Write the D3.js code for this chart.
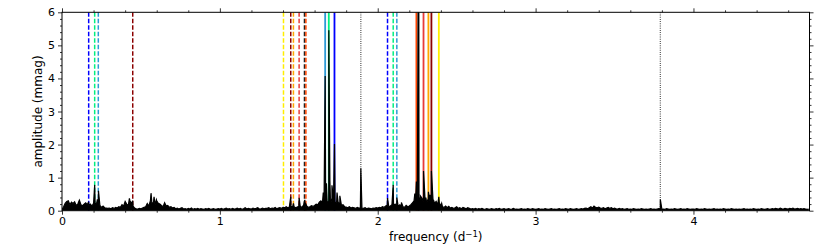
<!DOCTYPE html>
<html>
<head>
<meta charset="utf-8">
<script src="https://cdn.jsdelivr.net/npm/d3@7"></script>
<style>
  html, body { margin: 0; padding: 0; background: #fff; }
  svg { display: block; font-family: "DejaVu Sans", sans-serif; }
</style>
</head>
<body>
<svg id="chart" width="830" height="248"></svg>
<script>
// ---------------- DATA ----------------
// Noise floor of the amplitude spectrum, sampled every 0.01 d^-1 (units: 0.01 mmag)
const gridStep = 0.01;
const noise0 = [3,12,22,28,30,18,26,22,27,16, 20,32,18,15,20,24,18,15,20,14,
  22,18,24,20,16,10,14,9,8,7, 8,6,9,7,10,8,12,10,18,14,
  28,20,16,30,22,14,8,6,5,7, 6,8,10,12,22,14,30,20,26,18,
  30,22,20,16,12,24,14,16,10,12, 8,10,6,8,5,7,9,5,6,4,
  7,5,8,4,6,5,7,4,6,5, 4,6,5,7,4,5,6,4,5,6];
const noise1 = [5,7,4,6,8,5,6,4,7,5, 6,8,5,7,4,6,9,5,7,6,
  5,8,6,7,9,5,6,8,6,7, 7,9,6,8,7,10,6,8,9,7,
  10,8,12,9,11,14,10,12,9,11, 13,10,12,16,11,14,10,12,15,13,
  16,20,18,26,30,24,34,28,22,30, 38,26,32,20,28,22,24,16,18,12,
  11,9,12,8,10,9,7,10,8,9, 8,7,9,6,8,7,6,8,7,9];
const noise2 = [8,10,9,12,10,14,16,12,14,18, 16,20,14,12,18,14,12,10,16,12,
  14,18,24,30,36,30,40,34,38,28, 32,24,36,30,26,34,22,28,18,24,
  14,12,10,14,9,13,8,10,7,9, 12,7,9,6,10,8,6,9,7,5,
  6,5,7,4,6,5,7,5,4,6, 5,4,6,5,4,6,5,7,4,5,
  6,4,5,6,4,5,7,4,5,4, 5,6,4,5,4,6,5,4,6,5];
const noise3 = [4,5,6,4,5,4,6,5,4,5, 6,4,5,4,5,6,4,5,4,6,
  5,4,6,5,4,5,6,4,5,6, 5,7,8,6,9,12,8,14,10,9,
  11,8,7,9,6,8,10,7,9,6, 8,6,5,7,5,6,4,5,6,4,
  5,4,6,5,4,5,4,6,5,4, 5,4,5,6,4,5,4,5,6,5,
  4,5,4,6,5,4,5,4,6,5, 4,5,6,4,5,4,6,5,4,5];
const noise4 = [5,4,6,5,4,5,4,6,5,4, 5,4,5,6,4,5,4,5,4,6,
  5,4,5,4,6,5,4,5,4,5, 4,5,6,4,5,4,5,4,6,5,
  4,5,4,6,5,4,5,6,4,5, 6,5,7,6,5,8,6,5,7,6,
  5,7,6,8,5,6,7,5,6,5, 6,5,4,5];

// Resolved peaks (frequency d^-1, amplitude mmag)
const peakFreqs = [0.169,0.207,0.224,0.231,0.427,0.448,0.564,0.583,0.598,
  1.403,1.449,1.466,1.502,1.538,1.545,1.655,1.667,1.675,1.690,1.697,1.710,1.726,1.742,1.760,
  1.893,2.062,2.098,2.121,2.150,2.235,2.245,2.258,2.270,2.290,2.305,2.321,2.332,2.340,2.355,
  2.387,2.405,3.790];
const peakAmps  = [0.27,0.78,0.34,0.60,0.37,0.30,0.53,0.42,0.33,
  0.10,0.42,0.22,0.39,0.33,0.20,0.55,4.07,0.83,5.46,0.90,0.77,2.02,0.55,0.45,
  1.28,0.38,0.78,0.40,0.25,0.52,0.88,6.30,0.45,1.20,0.40,0.57,0.48,1.20,0.30,
  0.42,0.22,0.34];

// Marked frequencies (vertical lines)
const markFreqs  = [0.169,0.207,0.230,0.448, 1.403,1.449,1.466,1.502,1.536,1.545,
  1.667,1.690,1.726, 1.893, 2.062,2.098,2.121, 2.245,2.258,2.290,2.321,2.340,2.387, 3.790];
const markColors = ["#0000ff","#00f080","#2c9ad6","#8b0000", "#ffee00","#8b0000","#ffa500","#e83a3a","#222222","#ff4500",
  "#2c9ad6","#00f080","#0000ff", "#555555", "#0000ff","#00f080","#2c9ad6",
  "#ff4500","#000000","#e83a3a","#ffa500","#8b0000","#ffee00", "#555555"];
const markStyles = ["dash","dash","dash","dash", "dash","dash","dash","dash","dash","dash",
  "solid","solid","solid", "dot", "dash","dash","dash",
  "solid","solid","solid","solid","solid","solid", "dot"];

const xTicks = [0,1,2,3,4];
const yTicks = [0,1,2,3,4,5,6];
const xMax = 4.735, yMax = 6;

// ---------------- BUILD ----------------
const noiseAll = [].concat(noise0, noise1, noise2, noise3, noise4);
let spectrum = noiseAll.map((v, i) => ({f: +(i * gridStep).toFixed(3), a: v / 100}));
peakFreqs.forEach((f, i) => spectrum.push({f: f, a: peakAmps[i]}));
spectrum.sort((p, q) => p.f - q.f);

const L = 62, R = 809.5, T = 12.3, B = 210.7;
const svg = d3.select("#chart");
const x = d3.scaleLinear().domain([0, xMax]).range([L, R]);
const y = d3.scaleLinear().domain([0, yMax]).range([B, T]);

svg.append("defs").append("clipPath").attr("id", "clip")
  .append("rect").attr("x", L).attr("y", T).attr("width", R - L).attr("height", B - T);

const plot = svg.append("g").attr("clip-path", "url(#clip)");

// vertical marker lines (beneath spectrum)
plot.selectAll("line.mark").data(markFreqs).enter().append("line")
  .attr("class", "mark")
  .attr("x1", d => x(d)).attr("x2", d => x(d))
  .attr("y1", y(yMax)).attr("y2", y(0))
  .attr("stroke", (d, i) => markColors[i])
  .attr("stroke-width", (d, i) => markStyles[i] === "solid" ? 1.8 : (markStyles[i] === "dot" ? 1.2 : 1.5))
  .attr("stroke-dasharray", (d, i) => markStyles[i] === "dash" ? "4.5,2" : (markStyles[i] === "dot" ? "1,1.2" : null));

// spectrum (dense line drawn as filled trace)
plot.append("path").datum(spectrum)
  .attr("fill", "#000").attr("stroke", "none")
  .attr("d", d3.area().x(d => x(d.f)).y0(y(0)).y1(d => y(d.a)));
plot.append("path").datum(spectrum)
  .attr("fill", "none").attr("stroke", "#000").attr("stroke-width", 1.2)
  .attr("stroke-linejoin", "miter")
  .attr("d", d3.line().x(d => x(d.f)).y(d => y(d.a)));

// frame
svg.append("rect").attr("x", L).attr("y", T).attr("width", R - L).attr("height", B - T)
  .attr("fill", "none").attr("stroke", "#000").attr("stroke-width", 1);

// axes
const xMinor = d3.range(0, xMax, 0.2).filter(v => Math.abs(v - Math.round(v)) > 1e-6);
const yMinor = d3.range(0, yMax + 0.001, 0.2).filter(v => Math.abs(v - Math.round(v)) > 1e-6);

function styleAxis(g) {
  g.select(".domain").remove();
  g.selectAll(".tick line").attr("stroke", "#000").attr("stroke-width", 0.8);
  g.selectAll(".tick text").attr("font-family", "DejaVu Sans").attr("font-size", 11).attr("fill", "#000");
}

svg.append("g").attr("transform", `translate(0,${B})`)
  .call(d3.axisBottom(x).tickValues(xTicks).tickFormat(d3.format("d")).tickSize(4).tickSizeOuter(0).tickPadding(3))
  .call(styleAxis);
svg.append("g").attr("transform", `translate(0,${B})`)
  .call(d3.axisBottom(x).tickValues(xMinor).tickFormat("").tickSize(2).tickSizeOuter(0))
  .call(styleAxis);
svg.append("g").attr("transform", `translate(0,${T})`)
  .call(d3.axisTop(x).tickValues(xTicks).tickFormat("").tickSize(4).tickSizeOuter(0))
  .call(styleAxis);
svg.append("g").attr("transform", `translate(0,${T})`)
  .call(d3.axisTop(x).tickValues(xMinor).tickFormat("").tickSize(2).tickSizeOuter(0))
  .call(styleAxis);

svg.append("g").attr("transform", `translate(${L},0)`)
  .call(d3.axisLeft(y).tickValues(yTicks).tickFormat(d3.format("d")).tickSize(4).tickSizeOuter(0).tickPadding(3))
  .call(styleAxis);
svg.append("g").attr("transform", `translate(${L},0)`)
  .call(d3.axisLeft(y).tickValues(yMinor).tickFormat("").tickSize(2).tickSizeOuter(0))
  .call(styleAxis);
svg.append("g").attr("transform", `translate(${R},0)`)
  .call(d3.axisRight(y).tickValues(yTicks).tickFormat("").tickSize(4).tickSizeOuter(0))
  .call(styleAxis);
svg.append("g").attr("transform", `translate(${R},0)`)
  .call(d3.axisRight(y).tickValues(yMinor).tickFormat("").tickSize(2).tickSizeOuter(0))
  .call(styleAxis);

// axis labels
const xl = svg.append("text")
  .attr("x", (L + R) / 2).attr("y", 241)
  .attr("text-anchor", "middle").attr("font-size", 12).attr("fill", "#000");
xl.append("tspan").text("frequency (d");
xl.append("tspan").attr("font-size", 8.5).attr("dy", -4.5).text("\u22121");
xl.append("tspan").attr("dy", 4.5).text(")");

svg.append("text")
  .attr("transform", `translate(42,${(T + B) / 2}) rotate(-90)`)
  .attr("text-anchor", "middle").attr("font-size", 12).attr("fill", "#000")
  .text("amplitude (mmag)");
</script>
</body>
</html>
